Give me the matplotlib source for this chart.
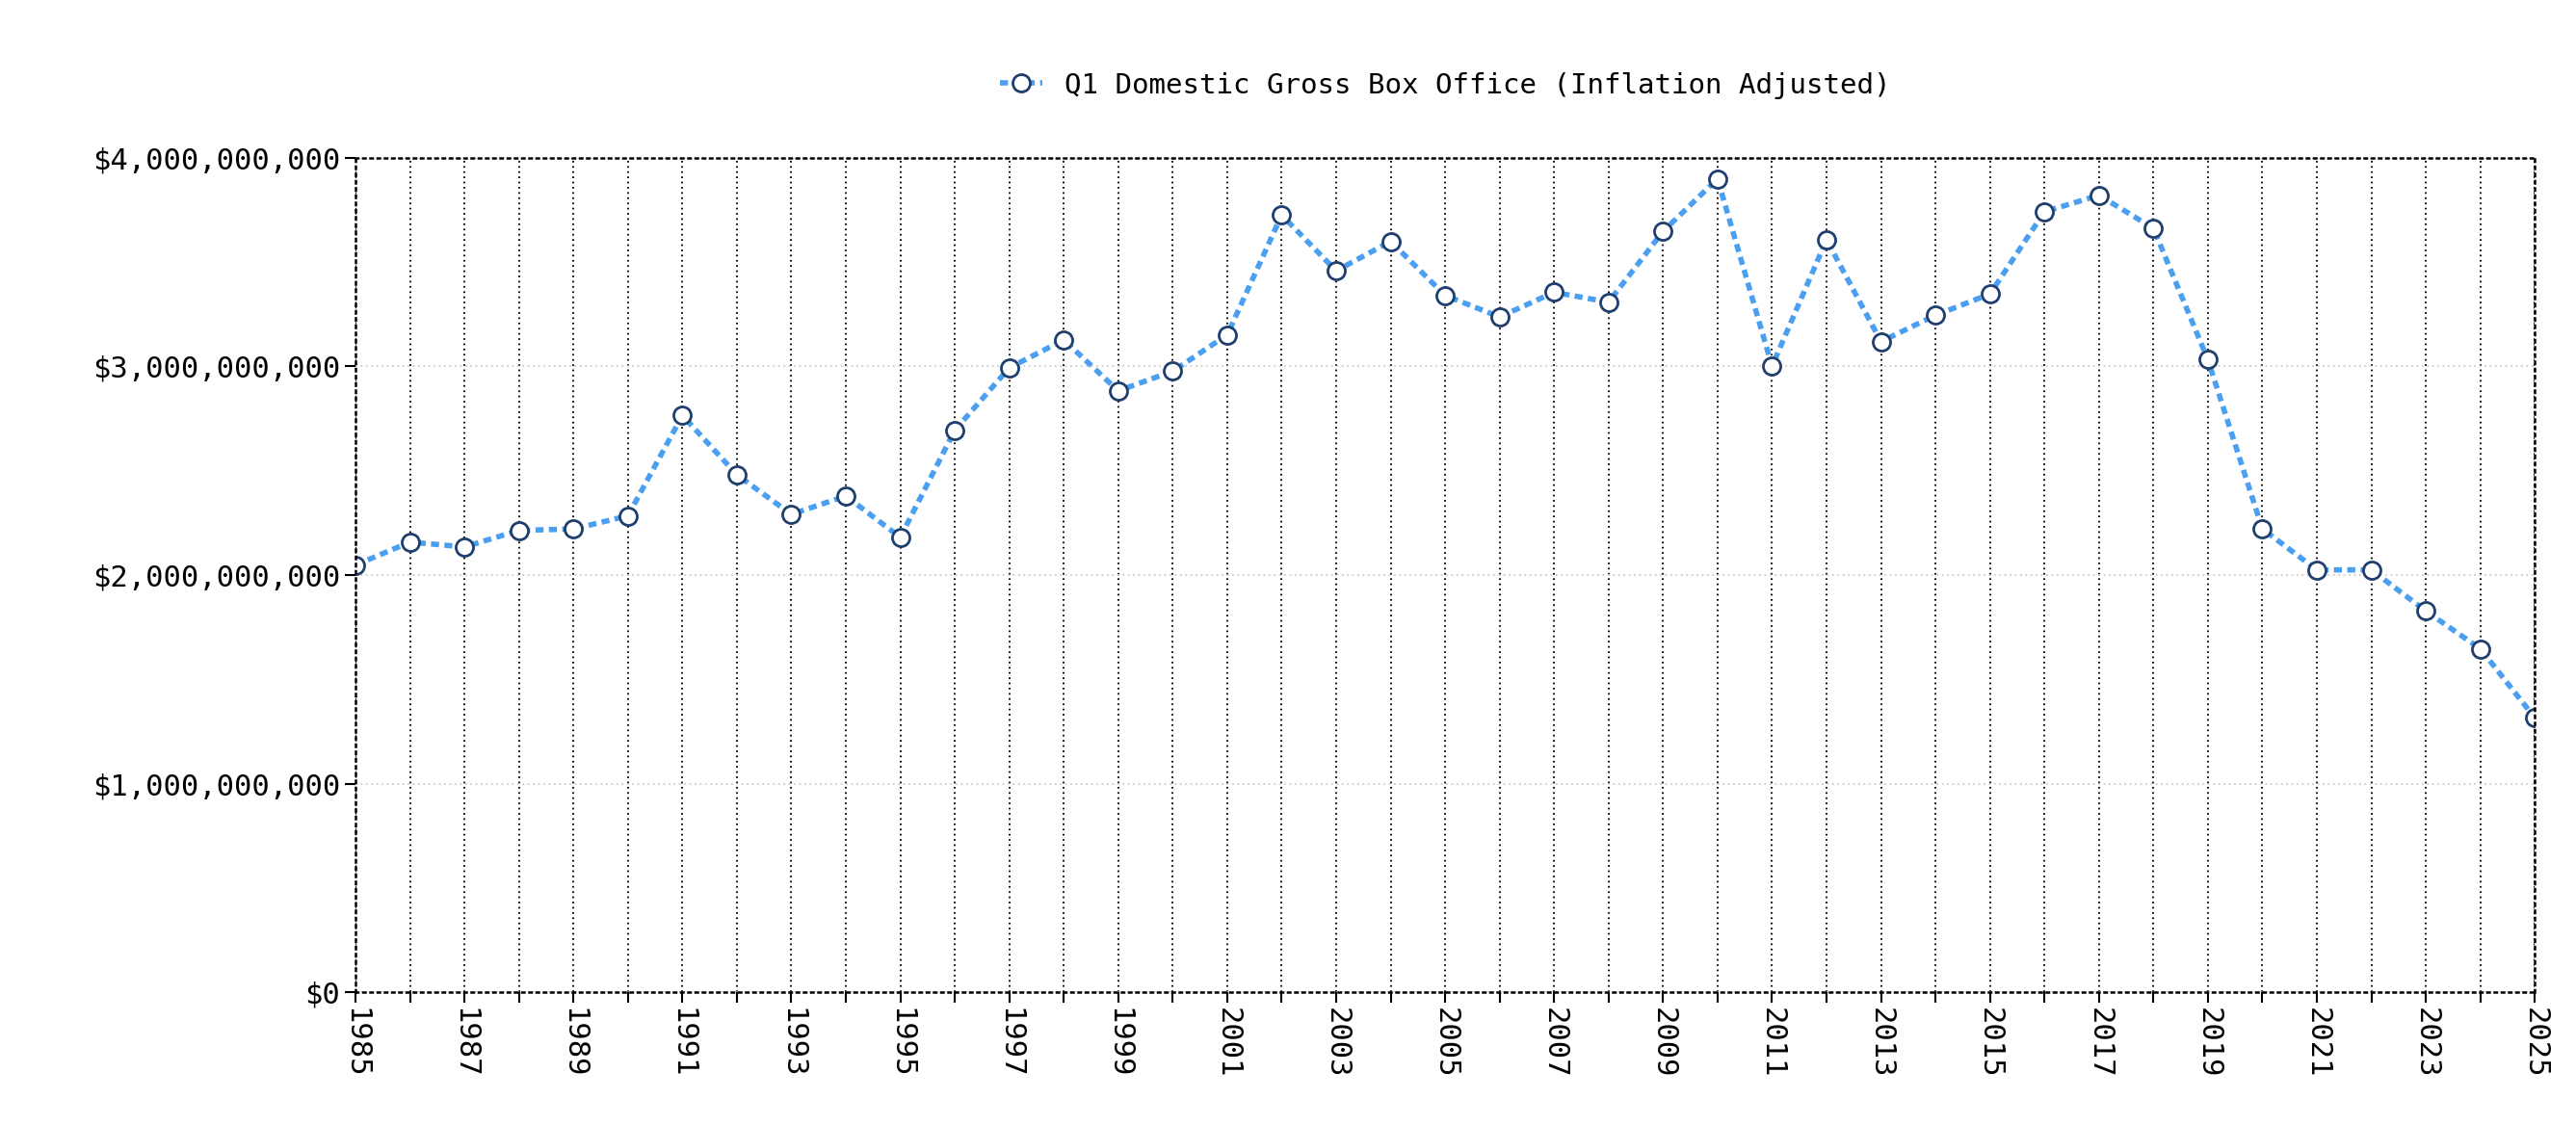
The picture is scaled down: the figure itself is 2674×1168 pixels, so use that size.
import matplotlib
matplotlib.use("Agg")
import matplotlib.pyplot as plt
from matplotlib.ticker import FuncFormatter, MultipleLocator

years = list(range(1985, 2026))
gross_billions = [2.047, 2.157, 2.134, 2.213, 2.22, 2.283, 2.764, 2.48, 2.29, 2.378,
                  2.18, 2.693, 2.992, 3.126, 2.882, 2.976, 3.15, 3.724, 3.457, 3.598,
                  3.339, 3.236, 3.354, 3.307, 3.646, 3.898, 3.0, 3.606, 3.118, 3.244,
                  3.346, 3.74, 3.819, 3.661, 3.031, 2.22, 2.024, 2.024, 1.827, 1.646, 1.315]
values = [v * 1e9 for v in gross_billions]
label = "Q1 Domestic Gross Box Office (Inflation Adjusted)"

plt.rcParams["font.family"] = "DejaVu Sans Mono"
fig = plt.figure(figsize=(26.74, 11.68), dpi=100)
ax = fig.add_axes([0.138, 0.118, 0.846, 0.742])
ax.plot(years, values, color="#4a9ff0", lw=4, ls=(0, (1.5, 1)), marker="o", ms=13,
        mfc="white", mec="#1f3f6e", mew=2, label=label)
ax.set_xlim(1985, 2025)
ax.set_ylim(0, 4e9)
ax.yaxis.set_major_locator(MultipleLocator(1e9))
ax.yaxis.set_major_formatter(FuncFormatter(lambda v, p: "$0" if v == 0 else f"${v:,.0f}"))
ax.set_xticks(years, minor=True)
ax.set_xticks(years[::2])
ax.set_xticklabels([str(y) for y in years[::2]], rotation=270)
ax.tick_params(labelsize=22, length=8, width=1.5)
ax.tick_params(which="minor", length=8, width=1.5)
ax.grid(axis="x", which="both", color="black", ls=(0, (1, 2)), lw=1.3)
ax.grid(axis="y", color="#cccccc", ls=(0, (1, 2)), lw=1.3)
for s in ax.spines.values():
    s.set_linestyle((0, (1, 2)))
    s.set_linewidth(1.8)
ax.legend(loc="lower center", bbox_to_anchor=(0.5, 1.04), frameon=False, fontsize=21,
          handlelength=1.5)
fig.savefig("out.png", dpi=100)
